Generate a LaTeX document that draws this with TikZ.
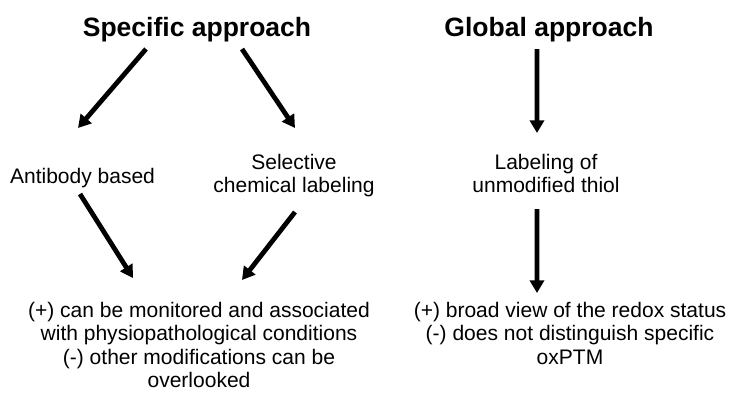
\documentclass[tikz,border=0pt]{standalone}
\usepackage{fontspec}
\setmainfont{Liberation Sans}
\usetikzlibrary{arrows.meta}

\begin{document}
\begin{tikzpicture}[
  head/.style={font=\fontsize{18.85}{22}\selectfont\bfseries, inner sep=0pt, anchor=base},
  txt/.style={font=\fontsize{14.95}{16.6}\selectfont, inner sep=0pt, anchor=north, align=center},
  arr/.style={line width=3.4pt, -{Triangle[width=10pt,length=9pt]}}]
\useasboundingbox (0.000,0.000) rectangle (18.275,-9.800);
% headings
\node[head] (spec) at (4.925,-0.900) {Specific approach};
\node[head] (glob) at (13.725,-0.900) {Global approach};
% methods
\node[txt] (anti) at (2.063,-4.200) {Antibody based};
\node[txt] (chem) at (7.350,-3.850) {Selective\\chemical labeling};
\node[txt] (thiol) at (13.650,-3.850) {Labeling of\\unmodified thiol};
% pros and cons
\node[txt] (prosL) at (4.975,-7.550) {(+) can be monitored and associated\\with physiopathological conditions\\(-) other modifications can be\\overlooked};
\node[txt] (prosR) at (14.250,-7.550) {(+) broad view of the redox status\\(-) does not distinguish specific\\oxPTM};
% arrows
\draw[arr] ([shift={(-1.275,-0.325)}]spec.base) -- ([shift={(-0.113,1.000)}]anti.north);
\draw[arr] ([shift={(1.125,-0.325)}]spec.base) -- ([shift={(0.025,0.650)}]chem.north);
\draw[arr] ([shift={(-0.300,-0.325)}]glob.base) -- ([shift={(-0.225,0.525)}]thiol.north);
\draw[arr] ([shift={(-0.063,-0.650)}]anti.north) -- ([shift={(-1.650,0.600)}]prosL.north);
\draw[arr] ([shift={(0.025,-1.450)}]chem.north) -- ([shift={(1.075,0.550)}]prosL.north);
\draw[arr] ([shift={(-0.225,-1.375)}]thiol.north) -- ([shift={(-0.825,0.225)}]prosR.north);
\end{tikzpicture}
\end{document}
